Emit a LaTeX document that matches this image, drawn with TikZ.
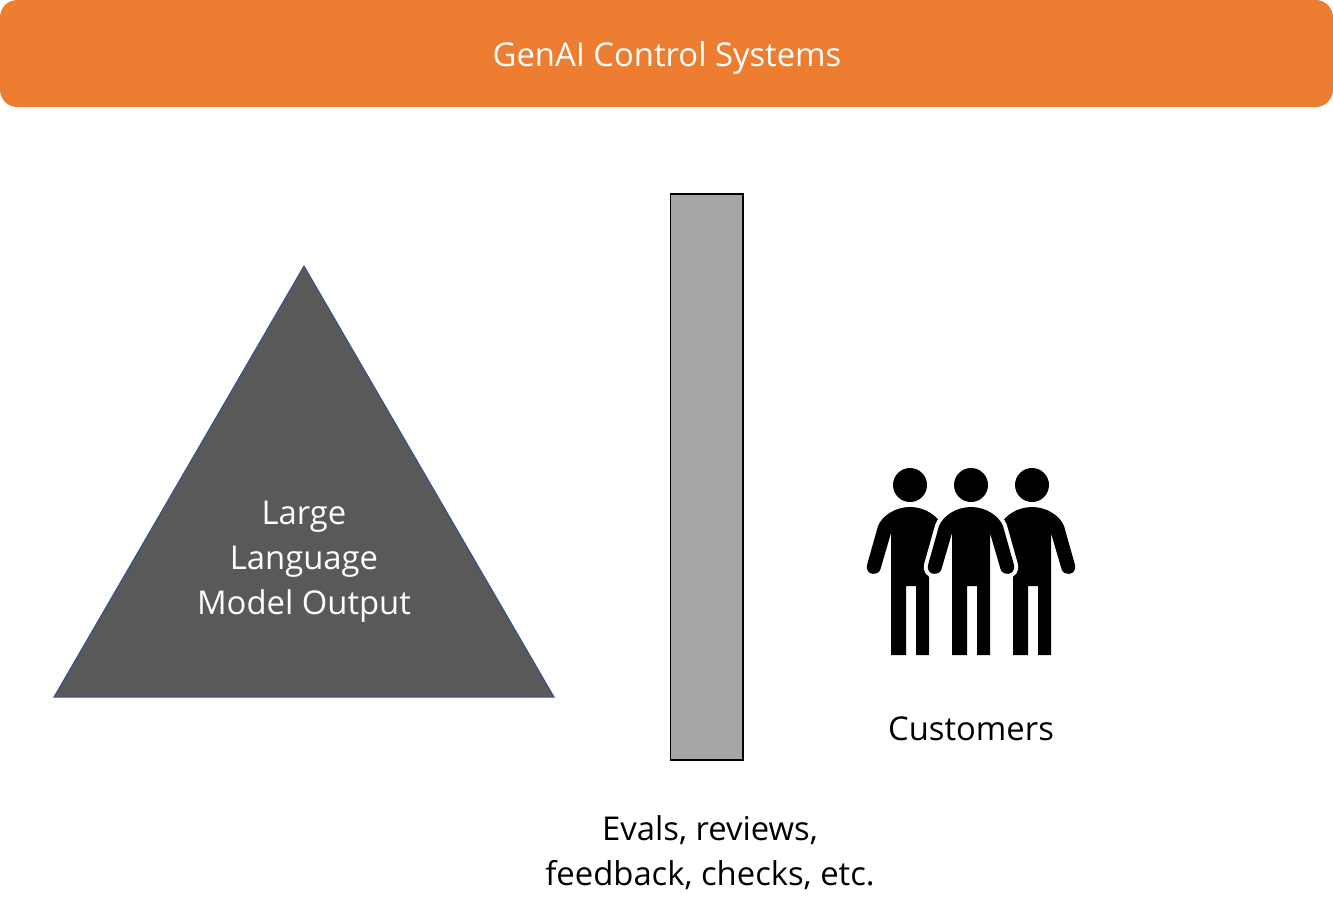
\documentclass[tikz,border=0pt]{standalone}
\usepackage{fontspec}
\setmainfont{Open Sans}
\usepackage{tikz}
\usetikzlibrary{positioning, calc}

\definecolor{bannerorange}{HTML}{ED7D31}
\definecolor{llmgrey}{HTML}{595959}
\definecolor{llmedge}{HTML}{2F528F}
\definecolor{barfill}{HTML}{A6A6A6}

\begin{document}
\begin{tikzpicture}[
    x=0.75pt, y=-0.75pt,
    banner/.style={rectangle, rounded corners=13pt, fill=bannerorange, minimum width=999.75pt, minimum height=80.25pt, inner sep=0pt},
    bar/.style={rectangle, draw=black, line width=1pt, fill=barfill, minimum width=54.5pt, minimum height=424.5pt, inner sep=0pt},
    caption/.style={font=\fontsize{24.6}{33.75}\selectfont, align=center, inner sep=0pt},
    person/.pic={
        \fill[black] (0,485) circle (17);
        \path[fill=black, line join=round, preaction={draw=white, line width=6pt}]
            (-19,655) -- (-19,533) -- (-29.5,569)
            .. controls (-31,576) and (-45,576) .. (-43,565)
            -- (-32,526) .. controls (-28,516) and (-15,507) .. (0,507)
            .. controls (15,507) and (28,516) .. (32,526)
            -- (43,565)
            .. controls (45,576) and (31,576) .. (29.5,569)
            -- (19,533) -- (19,655) -- (6,655) -- (6,586) -- (-4,586) -- (-4,655) -- cycle;
    },
    armgap/.pic={
        % side bodies run on behind the middle arms
        \fill[black] (-42,525) rectangle (-30,574);
        \fill[black] (42,525) rectangle (30,574);
        \fill[white] (-19,528) -- (-33,569) -- (-33,582) -- (-19,582) -- cycle;
        \fill[white] (19,528) -- (33,569) -- (33,582) -- (19,582) -- cycle;
    }
]
    \useasboundingbox (0,0) rectangle (1333,918);

    % Top banner
    \node[banner] (title) at (666.5,53.5) {};
    \node[caption, text=white] (titletext) at (667,58) {GenAI Control Systems};

    % Triangle
    \coordinate (apex) at (304,266);
    \coordinate (baseleft) at (54,697);
    \coordinate (baseright) at (554,697);
    \draw[draw=llmedge, line width=0.75pt, fill=llmgrey] (apex) -- (baseleft) -- (baseright) -- cycle;
    \node[caption, text=white] (llm) at (304,562) {Large\\Language\\Model Output};

    % Control bar
    \node[bar] (control) at (706.5,477) {};
    \node[caption] (evals) at (710,853) {Evals, reviews,\\feedback, checks, etc.};

    % Customers
    \pic at (910,0) {person};
    \pic at (1032,0) {person};
    \pic at (971,0) {armgap};
    \pic at (971,0) {person};
    \node[caption] (customers) at (971,729) {Customers};

\end{tikzpicture}
\end{document}
